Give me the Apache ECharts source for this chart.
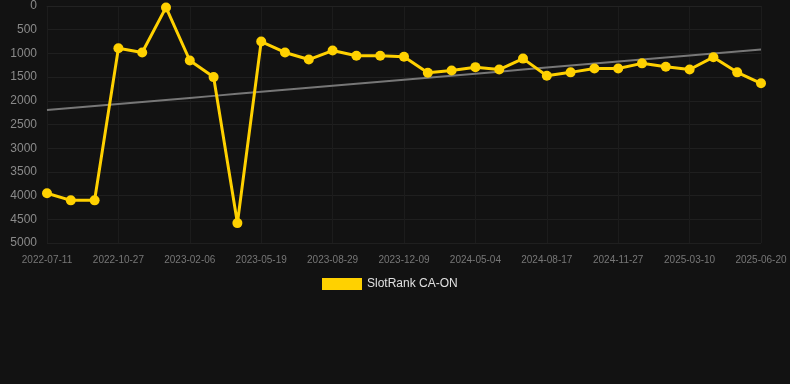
<!DOCTYPE html>
<html>
<head>
<meta charset="utf-8">
<script src="https://cdn.jsdelivr.net/npm/echarts@6/dist/echarts.min.js"></script>
<style>
html,body{margin:0;padding:0;background:#121212;}
#chart{width:790px;height:384px;}
</style>
</head>
<body>
<div id="chart"></div>
<script>
var categories = [
  "2022-07-11","2022-08-16","2022-09-21","2022-10-27","2022-12-01","2023-01-04",
  "2023-02-06","2023-03-13","2023-04-15","2023-05-19","2023-06-22","2023-07-26",
  "2023-08-29","2023-10-02","2023-11-05","2023-12-09","2024-01-26","2024-03-15",
  "2024-05-04","2024-06-08","2024-07-13","2024-08-17","2024-09-20","2024-10-24",
  "2024-11-27","2025-01-01","2025-02-04","2025-03-10","2025-04-13","2025-05-17",
  "2025-06-20"
];
var rankValues = [
  3950,4100,4100,890,980,30,
  1150,1500,4580,750,980,1130,
  940,1050,1050,1070,1410,1360,
  1290,1340,1110,1470,1400,1320,
  1320,1210,1280,1340,1080,1400,
  1630
];
var seriesName = "SlotRank CA-ON";

// linear regression trend of the rank values
function trend(vals){
  var n = vals.length, sx=0, sy=0, sxy=0, sxx=0;
  for (var i=0;i<n;i++){ sx+=i; sy+=vals[i]; sxy+=i*vals[i]; sxx+=i*i; }
  var b = (n*sxy - sx*sy)/(n*sxx - sx*sx);
  var a = (sy - b*sx)/n;
  return vals.map(function(_,i){ return a + b*i; });
}
var trendValues = trend(rankValues);

var chart = echarts.init(document.getElementById('chart'), null, {renderer:'canvas'});
chart.setOption({
  backgroundColor: '#121212',
  animation: false,
  grid: { left: 47, right: 29, top: 6, bottom: 141 },
  legend: {
    data: [{name: seriesName, icon: 'rect'}],
    top: 273,
    left: 317,
    itemWidth: 40,
    itemHeight: 12,
    textStyle: { color: '#e0e0e0', fontSize: 12, fontFamily: 'Liberation Sans, Arial, sans-serif' }
  },
  xAxis: {
    type: 'category',
    data: categories,
    boundaryGap: false,
    axisLine: { show: true, lineStyle: { color: '#222' } },
    axisTick: { show: false },
    axisLabel: { interval: 2, color: '#777', fontSize: 10, margin: 12, fontFamily: 'Liberation Sans, Arial, sans-serif' },
    splitLine: { show: true, interval: 2, lineStyle: { color: '#1c1c1c' } }
  },
  yAxis: {
    type: 'value',
    inverse: true,
    min: 0,
    max: 5000,
    interval: 500,
    axisLine: { show: false },
    axisTick: { show: false },
    axisLabel: { color: '#8a8a8a', fontSize: 12, margin: 10, fontFamily: 'Liberation Sans, Arial, sans-serif',
      formatter: function(v){ return String(v); } },
    splitLine: { show: true, lineStyle: { color: '#1f1f1f' } }
  },
  series: [
    {
      name: 'trend',
      type: 'line',
      data: trendValues,
      symbol: 'none',
      silent: true,
      lineStyle: { color: '#777', width: 2 },
      z: 1
    },
    {
      name: seriesName,
      type: 'line',
      data: rankValues,
      symbol: 'circle',
      symbolSize: 10,
      itemStyle: { color: '#FFD100' },
      lineStyle: { color: '#FFD100', width: 3 },
      z: 2
    }
  ]
});
</script>
</body>
</html>
